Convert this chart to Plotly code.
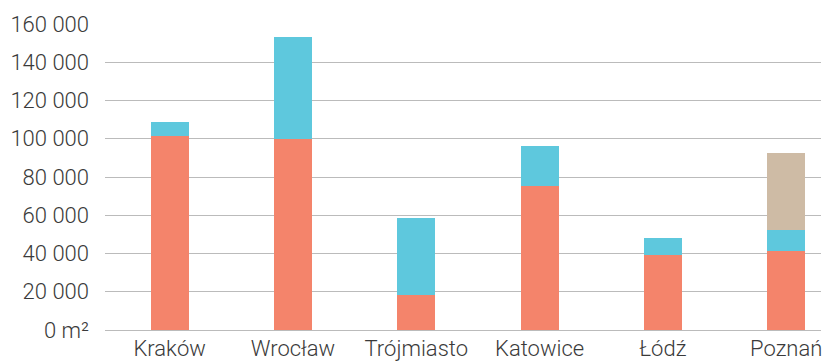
import plotly.graph_objects as go

cities = ["Kraków", "Wrocław", "Trójmiasto", "Katowice", "Łódź", "Poznań"]
series_orange = [101500, 100000, 18500, 75500, 39000, 41500]
series_blue = [7000, 53000, 40000, 20500, 9000, 11000]
series_tan = [0, 0, 0, 0, 0, 40000]

tick_vals = [0, 20000, 40000, 60000, 80000, 100000, 120000, 140000, 160000]
tick_text = ["0 m²", "20 000", "40 000", "60 000", "80 000", "100 000",
             "120 000", "140 000", "160 000"]

colors = {"orange": "#F4846B", "blue": "#5EC8DD", "tan": "#CEBBA5"}

fig = go.Figure()
for name, vals in [("orange", series_orange), ("blue", series_blue), ("tan", series_tan)]:
    fig.add_trace(go.Bar(x=cities, y=vals, marker=dict(color=colors[name], line=dict(width=0)),
                         name=name, showlegend=False))

font = dict(family="Roboto, Liberation Sans, sans-serif", size=22, color="#3a3a3a", weight=300)
fig.update_layout(
    barmode="stack",
    bargap=0.692,
    width=822, height=361,
    margin=dict(l=105, r=0, t=24, b=29),
    paper_bgcolor="white", plot_bgcolor="white",
    font=font,
    xaxis=dict(type="category", range=[-0.524, 5.282], showgrid=False, showline=False,
               zeroline=False, ticks="", tickfont=font, ticklabelstandoff=3),
    yaxis=dict(range=[0, 160000], tickvals=tick_vals, ticktext=tick_text,
               showgrid=True, gridcolor="#BBBBBB", gridwidth=1,
               zeroline=True, zerolinecolor="#BBBBBB", zerolinewidth=1,
               showline=False, ticks="", tickfont=font, ticklabelstandoff=15),
)
fig.write_html("out.html")
